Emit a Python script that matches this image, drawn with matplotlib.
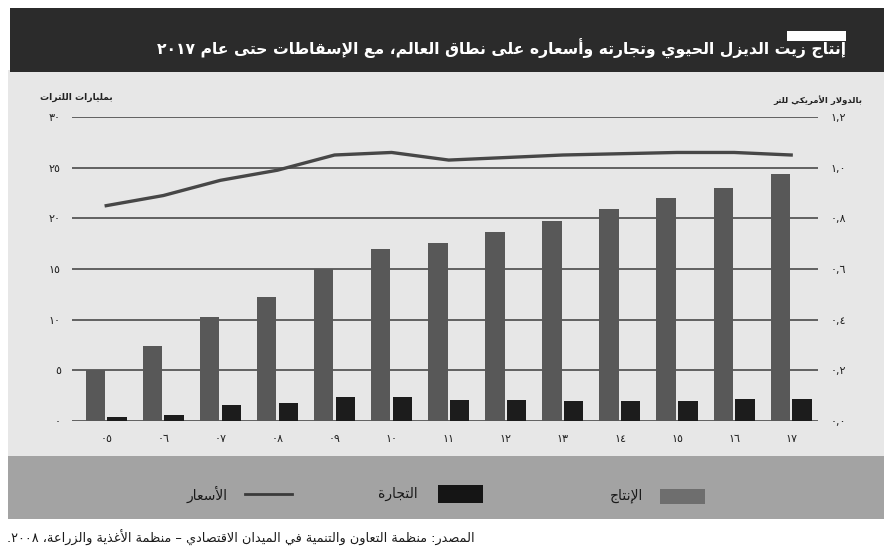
import re
import numpy as np
import matplotlib
matplotlib.use('Agg')
import matplotlib.pyplot as plt
from matplotlib.patches import Rectangle
from matplotlib.lines import Line2D

# ---------------- data ----------------
years = ['٠٥', '٠٦', '٠٧', '٠٨', '٠٩', '١٠', '١١', '١٢', '١٣', '١٤', '١٥', '١٦', '١٧']
production = [5.0, 7.4, 10.3, 12.2, 15.0, 17.0, 17.6, 18.7, 19.7, 20.9, 22.0, 23.0, 24.4]
trade = [0.4, 0.6, 1.6, 1.8, 2.4, 2.4, 2.1, 2.1, 2.0, 2.0, 2.0, 2.2, 2.2]
prices = [0.85, 0.89, 0.95, 0.99, 1.05, 1.06, 1.03, 1.04, 1.05, 1.055, 1.06, 1.06, 1.05]
left_ticks = [0, 5, 10, 15, 20, 25, 30]
left_labels = ['٠', '٥', '١٠', '١٥', '٢٠', '٢٥', '٣٠']
right_ticks = [0.0, 0.2, 0.4, 0.6, 0.8, 1.0, 1.2]
right_labels = ['٠,٠', '٠,٢', '٠,٤', '٠,٦', '٠,٨', '١,٠', '١,٢']

title = 'إنتاج زيت الديزل الحيوي وتجارته وأسعاره على نطاق العالم، مع الإسقاطات حتى عام ٢٠١٧'
left_unit = 'بمليارات اللترات'
right_unit = 'بالدولار الأمريكي للتر'
lbl_prod = 'الإنتاج'
lbl_trade = 'التجارة'
lbl_price = 'الأسعار'
source = 'المصدر: منظمة التعاون والتنمية في الميدان الاقتصادي – منظمة الأغذية والزراعة، ٢٠٠٨.'

# ---------------- minimal Arabic shaping ----------------
_DUAL = {0x626: 0xFE89, 0x628: 0xFE8F, 0x62A: 0xFE95, 0x62B: 0xFE99, 0x62C: 0xFE9D,
         0x62D: 0xFEA1, 0x62E: 0xFEA5, 0x633: 0xFEB1, 0x634: 0xFEB5, 0x635: 0xFEB9,
         0x636: 0xFEBD, 0x637: 0xFEC1, 0x638: 0xFEC5, 0x639: 0xFEC9, 0x63A: 0xFECD,
         0x641: 0xFED1, 0x642: 0xFED5, 0x643: 0xFED9, 0x644: 0xFEDD, 0x645: 0xFEE1,
         0x646: 0xFEE5, 0x647: 0xFEE9, 0x64A: 0xFEF1}
_RIGHT = {0x622: 0xFE81, 0x623: 0xFE83, 0x624: 0xFE85, 0x625: 0xFE87, 0x627: 0xFE8D,
          0x629: 0xFE93, 0x62F: 0xFEA9, 0x630: 0xFEAB, 0x631: 0xFEAD, 0x632: 0xFEAF,
          0x648: 0xFEED, 0x649: 0xFEEF}
_LAMALEF = {0x627: 0xFEFB, 0x623: 0xFEF7, 0x625: 0xFEF9, 0x622: 0xFEF5}
_NUM = r'[0-9\u0660-\u0669]+(?:[.,\u066B][0-9\u0660-\u0669]+)*'


def shape(s):
    toks = []
    i = 0
    while i < len(s):
        c = ord(s[i])
        if c == 0x644 and i + 1 < len(s) and ord(s[i + 1]) in _LAMALEF:
            toks.append(('R', _LAMALEF[ord(s[i + 1])]))
            i += 2
            continue
        if c in _DUAL:
            toks.append(('D', _DUAL[c]))
        elif c in _RIGHT:
            toks.append(('R', _RIGHT[c]))
        elif c == 0x621:
            toks.append(('N', 0xFE80))
        else:
            toks.append(('X', s[i]))
        i += 1
    out = []
    for j, (k, b) in enumerate(toks):
        if k in ('X', 'N'):
            out.append(b if k == 'X' else chr(b))
            continue
        jp = j > 0 and toks[j - 1][0] == 'D'
        jn = k == 'D' and j + 1 < len(toks) and toks[j + 1][0] in ('D', 'R')
        if k == 'R':
            out.append(chr(b + 1) if jp else chr(b))
        else:
            if jp and jn:
                out.append(chr(b + 3))
            elif jp:
                out.append(chr(b + 1))
            elif jn:
                out.append(chr(b + 2))
            else:
                out.append(chr(b))
    shaped = ''.join(out)
    parts = re.split('(' + _NUM + ')', shaped)
    vis = []
    for p in reversed(parts):
        if p and re.fullmatch(_NUM, p):
            vis.append(p)
        else:
            vis.append(p[::-1])
    return ''.join(vis)


plt.rcParams['font.family'] = ['DejaVu Sans']

W, H = 884, 552
fig = plt.figure(figsize=(W / 100, H / 100), dpi=100, facecolor='white')


def fx(x):
    return x / W


def fy(y):
    return 1 - y / H


def frect(x0, y0, x1, y1, z, **kw):
    fig.patches.append(Rectangle((fx(x0), fy(y1)), fx(x1) - fx(x0), fy(y0) - fy(y1),
                                 transform=fig.transFigure, zorder=z, **kw))


# backgrounds
frect(8, 70, 884, 456, -10, facecolor='#e7e7e7', edgecolor='none')
frect(10, 8, 884, 72, -9, facecolor='#2b2b2b', edgecolor='none')
frect(787, 31, 846, 41, -8, facecolor='white', edgecolor='none')
frect(8, 456, 884, 519, -9, facecolor='#a3a3a3', edgecolor='none')

fig.text(fx(846), fy(49), shape(title), color='white', fontsize=11.25, fontweight='bold',
         ha='right', va='center', zorder=3)

# axes
ax_left, ax_right, ax_top, ax_bot = 72, 818, 117, 421
ax = fig.add_axes([fx(ax_left), fy(ax_bot), fx(ax_right) - fx(ax_left), fy(ax_top) - fy(ax_bot)])
ax.set_zorder(5)
ax.patch.set_visible(False)
x = np.arange(len(years))
ax.bar(x - 0.19, production, width=0.34, color='#585858', zorder=3)
ax.bar(x + 0.19, trade, width=0.34, color='#1c1c1c', zorder=3)
ax.set_xlim(-0.6, 12.47)
ax.set_ylim(0, 30)
ax.set_yticks(left_ticks)
ax.set_yticklabels(left_labels)
ax.set_xticks(x)
ax.set_xticklabels(years)
ax.tick_params(axis='both', length=0, labelsize=8, colors='#222222')
ax.tick_params(axis='y', pad=8)
ax.tick_params(axis='x', pad=9)
for s in ax.spines.values():
    s.set_visible(False)
for t in left_ticks:
    ax.axhline(t, color='#4a4a4a', lw=1.2, zorder=2)

ax2 = ax.twinx()
ax2.set_zorder(6)
ax2.patch.set_visible(False)
ax2.plot(x, prices, color='#474747', lw=2.4, zorder=4)
ax2.set_ylim(0, 1.2)
ax2.set_yticks(right_ticks)
ax2.set_yticklabels(right_labels)
ax2.tick_params(axis='y', length=0, labelsize=8, colors='#222222', pad=9)
for s in ax2.spines.values():
    s.set_visible(False)

fig.text(fx(113), fy(97), shape(left_unit), fontsize=6.6, fontweight='bold', color='#222222',
         ha='right', va='center')
fig.text(fx(862), fy(100), shape(right_unit), fontsize=6.1, fontweight='bold', color='#222222',
         ha='right', va='center')

# legend (manual, RTL)
frect(660, 489, 705, 504, 3, facecolor='#6e6e6e', edgecolor='none')
fig.text(fx(643), fy(496), shape(lbl_prod), fontsize=10, color='#1a1a1a', ha='right', va='center', zorder=3)
frect(438, 485, 483, 503, 3, facecolor='#151515', edgecolor='none')
fig.text(fx(418), fy(494), shape(lbl_trade), fontsize=10, color='#1a1a1a', ha='right', va='center', zorder=3)
fig.lines.append(Line2D([fx(245), fx(292)], [fy(494), fy(494)], color='#3a3a3a', lw=2,
                        transform=fig.transFigure, zorder=3))
fig.text(fx(228), fy(494), shape(lbl_price), fontsize=10, color='#1a1a1a', ha='right', va='center', zorder=3)

fig.text(fx(475), fy(538), shape(source), fontsize=9.3, color='#1a1a1a', ha='right', va='center')

fig.savefig('out.png', dpi=100, facecolor='white')
